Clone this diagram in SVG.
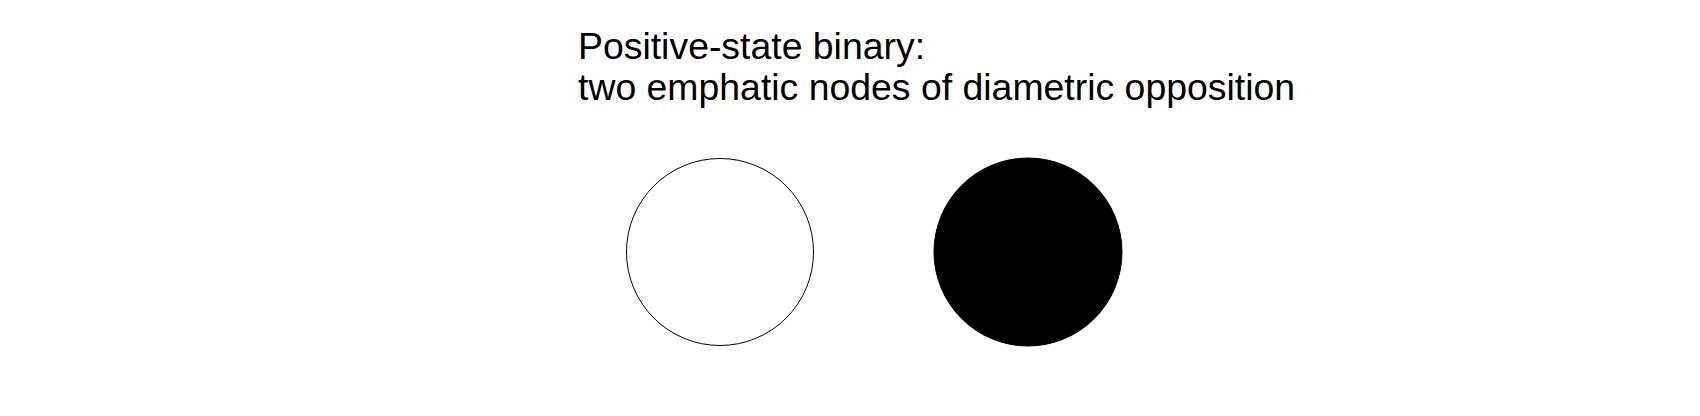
<svg xmlns="http://www.w3.org/2000/svg" width="1700" height="416" viewBox="0 0 1700 416">
  <style>
    .title { font-family: "Liberation Sans", Arial, sans-serif; font-size: 37.4px; fill: #000; }
    .node { stroke: #000; stroke-width: 1; }
  </style>
  <rect width="1700" height="416" fill="#fff"/>
  <text class="title" x="578" y="59">Positive-state binary:</text>
  <text class="title" x="578" y="100">two emphatic nodes of diametric opposition</text>
  <g id="node-positive">
    <circle class="node" cx="720" cy="252" r="93.5" fill="#fff"/>
  </g>
  <g id="node-negative">
    <circle class="node" cx="1028" cy="252" r="94" fill="#000"/>
  </g>
  <g id="connectors"></g>
</svg>
